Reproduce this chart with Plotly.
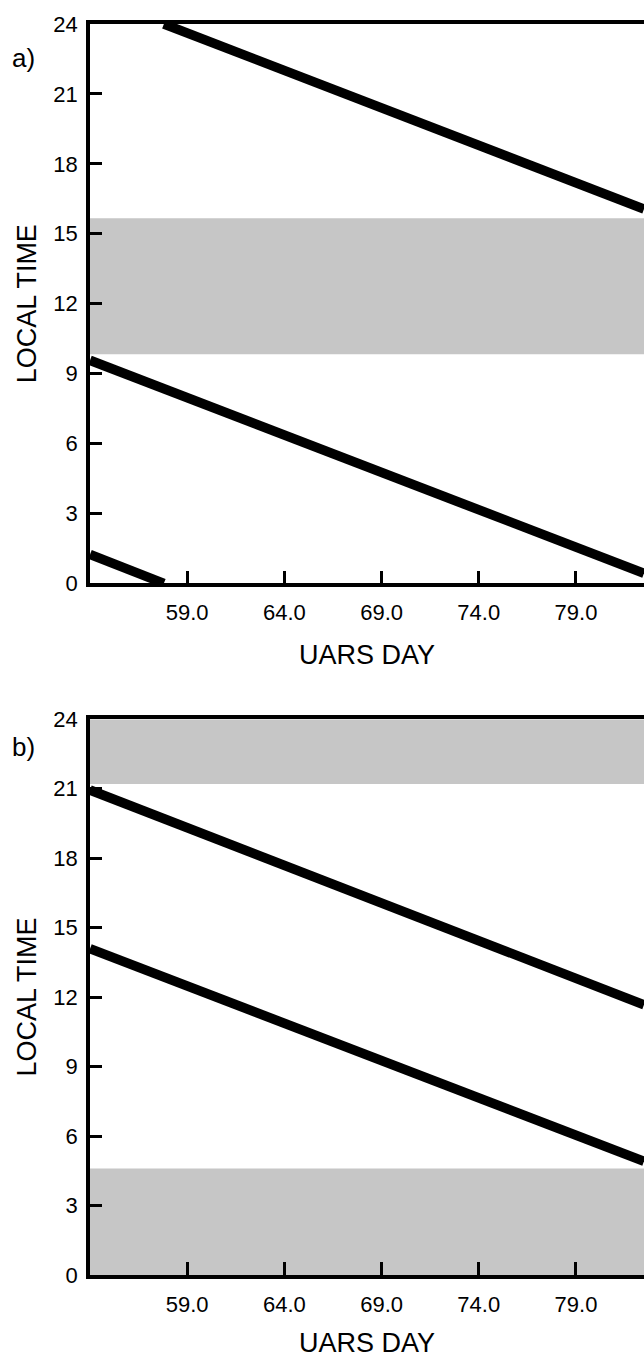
import plotly.graph_objects as go

# Local time of the UARS orbit tracks versus UARS day, two panels.
day_start = 54.0
day_end = 82.5

# panel a: one track wraps through midnight, one continuous track
a1_days_pre = [54.0, 57.8]
a1_time_pre = [1.24, 0.0]
a1_days_post = [57.8, 82.5]
a1_time_post = [24.0, 16.06]
a2_days = [54.0, 82.5]
a2_time = [9.57, 0.43]
a_band = [(9.83, 15.66)]

# panel b: two continuous tracks
b1_days = [54.0, 82.5]
b1_time = [20.94, 11.67]
b2_days = [54.0, 82.5]
b2_time = [14.09, 4.91]
b_band = [(21.2, 24.0), (0.0, 4.6)]

x_tickvals = [59.0, 64.0, 69.0, 74.0, 79.0]
x_ticktext = ["59.0", "64.0", "69.0", "74.0", "79.0"]
y_tickvals = [0, 3, 6, 9, 12, 15, 18, 21, 24]

FONT = "Liberation Sans, Arial, Helvetica, sans-serif"
LINE_W = 9.5
BAND = "#c6c6c6"

fig = go.Figure()

def track(xs, ys, xa, ya):
    fig.add_trace(go.Scatter(
        x=xs, y=ys, mode="lines", xaxis=xa, yaxis=ya,
        line=dict(color="black", width=LINE_W), showlegend=False,
        hoverinfo="skip",
    ))

track(a1_days_pre, a1_time_pre, "x", "y")
track(a1_days_post, a1_time_post, "x", "y")
track(a2_days, a2_time, "x", "y")
track(b1_days, b1_time, "x2", "y2")
track(b2_days, b2_time, "x2", "y2")

shapes = []
for lo, hi in a_band:
    shapes.append(dict(type="rect", xref="x domain", yref="y", x0=0, x1=1,
                       y0=lo, y1=hi, fillcolor=BAND, line_width=0,
                       layer="below"))
for lo, hi in b_band:
    shapes.append(dict(type="rect", xref="x2 domain", yref="y2", x0=0, x1=1,
                       y0=lo, y1=hi, fillcolor=BAND, line_width=0,
                       layer="below"))

tick_font = dict(family=FONT, size=22, color="black")
title_font = dict(family=FONT, size=27, color="black")

def xaxis_cfg(anchor):
    return dict(
        range=[day_start, day_end], domain=[0, 1], anchor=anchor,
        tickmode="array", tickvals=x_tickvals, ticktext=x_ticktext,
        ticks="inside", ticklen=13, tickwidth=2.5, tickcolor="black",
        showline=True, linewidth=3.5, linecolor="black", mirror=True,
        showgrid=False, zeroline=False, tickfont=tick_font,
        ticklabelstandoff=7,
        title=dict(text="UARS DAY", font=title_font, standoff=22),
    )

def yaxis_cfg(anchor, domain):
    return dict(
        range=[0, 24], domain=domain, anchor=anchor,
        tickmode="array", tickvals=y_tickvals,
        ticks="inside", ticklen=12, tickwidth=2.5, tickcolor="black",
        showline=True, linewidth=3.5, linecolor="black", mirror=False,
        showgrid=False, zeroline=False, tickfont=tick_font,
        ticklabelstandoff=4,
        title=dict(text="LOCAL TIME", font=title_font, standoff=10),
    )

fig.update_layout(
    width=644, height=1358,
    margin=dict(l=89.5, r=0, t=24, b=77),
    paper_bgcolor="white", plot_bgcolor="white",
    xaxis=xaxis_cfg("y"),
    yaxis=yaxis_cfg("x", [0.5529, 1.0]),
    xaxis2=xaxis_cfg("y2"),
    yaxis2=yaxis_cfg("x2", [0.0, 0.4443]),
    shapes=shapes,
    annotations=[
        dict(text="a)", xref="paper", yref="paper", x=-0.12, y=0.973,
             xanchor="center", yanchor="middle", showarrow=False,
             font=dict(family=FONT, size=26, color="black")),
        dict(text="b)", xref="paper", yref="paper", x=-0.12, y=0.4224,
             xanchor="center", yanchor="middle", showarrow=False,
             font=dict(family=FONT, size=26, color="black")),
    ],
)

fig.write_html("out.html")
